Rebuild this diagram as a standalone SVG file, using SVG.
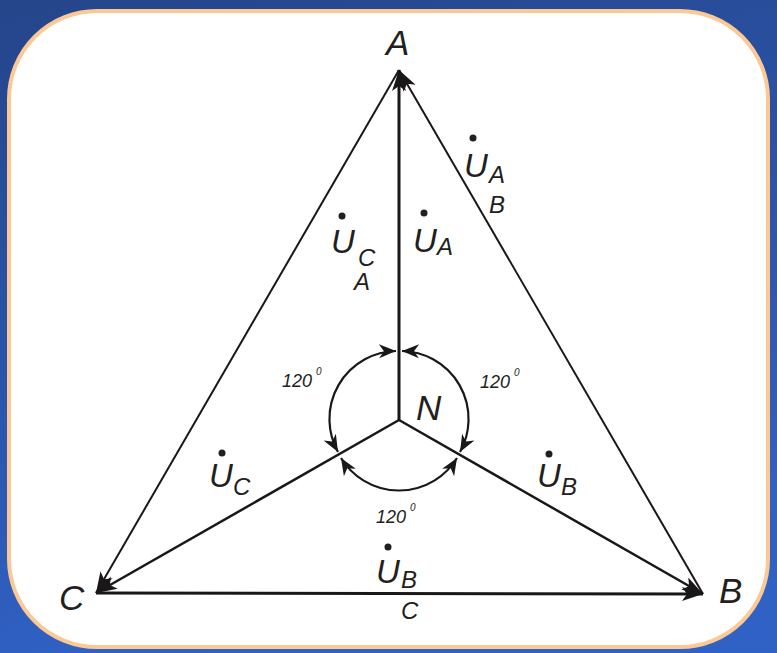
<svg xmlns="http://www.w3.org/2000/svg" width="777" height="653" viewBox="0 0 777 653">
<defs>
<linearGradient id="bg" x1="0" y1="0" x2="0.3" y2="1">
<stop offset="0" stop-color="#25458a"/>
<stop offset="1" stop-color="#3062c6"/>
</linearGradient>
<marker id="big" markerUnits="userSpaceOnUse" markerWidth="24" markerHeight="16" viewBox="-22 -8 24 16" refX="0" refY="0" orient="auto">
<path d="M0,0 L-21,-7 L-16,0 L-21,7 Z" fill="#1a1718"/>
</marker>
<marker id="sm" markerUnits="userSpaceOnUse" markerWidth="20" markerHeight="16" viewBox="-18 -8 20 16" refX="0" refY="0" orient="auto-start-reverse">
<path d="M0,0 L-17,-7 L-12,0 L-17,7 Z" fill="#1a1718"/>
</marker>
</defs>
<style>
.ln{stroke:#1a1718;fill:none;marker-end:url(#big)}
.arc{stroke:#1a1718;stroke-width:2.2;fill:none;marker-start:url(#sm);marker-end:url(#sm)}
text{font-family:"Liberation Sans",Arial,sans-serif;font-style:italic;fill:#231f20}
.pt{font-size:35px}
.u{font-size:33px}
.sub{font-size:24px}
.deg{font-size:18px}
.sup{font-size:10px}
.dot{fill:#231f20}
</style>
<rect x="0" y="0" width="777" height="653" fill="url(#bg)"/>
<rect x="9" y="11" width="759" height="636" rx="88" ry="88" fill="#ffffff" stroke="#fcc994" stroke-width="4"/>
<g id="connectors">
<line class="ln" x1="399" y1="420" x2="399" y2="70" stroke-width="3"/>
<line class="ln" x1="399" y1="420" x2="96" y2="593" stroke-width="2.5"/>
<line class="ln" x1="399" y1="420" x2="703" y2="594" stroke-width="2.5"/>
<line class="ln" x1="703" y1="594" x2="399" y2="70" stroke-width="2"/>
<line class="ln" x1="399" y1="70" x2="96" y2="593" stroke-width="2"/>
<line class="ln" x1="96" y1="593" x2="703" y2="594" stroke-width="3"/>
<path class="arc" d="M396,351 A68,68 0 0 0 338,452"/>
<path class="arc" d="M402,351 A68,68 0 0 1 460,452"/>
<path class="arc" d="M341,458 A68,68 0 0 0 457,458"/>
</g>
<g id="node-A"><text class="pt" x="386" y="55">A</text></g>
<g id="node-B"><text class="pt" x="719" y="603">B</text></g>
<g id="node-C"><text class="pt" x="59" y="610">C</text></g>
<g id="node-N"><text class="pt" x="416" y="420">N</text></g>
<g id="label-UA"><circle class="dot" cx="424" cy="213" r="3.5"/><text class="u" x="413" y="252">U</text><text class="sub" x="437" y="255">A</text></g>
<g id="label-UCA"><circle class="dot" cx="342" cy="216" r="3.5"/><text class="u" x="331" y="253">U</text><text class="sub" x="358" y="266">C</text><text class="sub" x="354" y="290">A</text></g>
<g id="label-UAB"><circle class="dot" cx="473" cy="138" r="3.5"/><text class="u" x="464" y="177">U</text><text class="sub" x="489" y="183">A</text><text class="sub" x="489" y="213">B</text></g>
<g id="label-UC"><circle class="dot" cx="222" cy="453" r="3.5"/><text class="u" x="209" y="487">U</text><text class="sub" x="233" y="495">C</text></g>
<g id="label-UB"><circle class="dot" cx="549" cy="454" r="3.5"/><text class="u" x="537" y="487">U</text><text class="sub" x="561" y="495">B</text></g>
<g id="label-UBC"><circle class="dot" cx="388" cy="547" r="3.5"/><text class="u" x="376" y="583">U</text><text class="sub" x="401" y="588">B</text><text class="sub" x="401" y="619">C</text></g>
<g id="angle-left"><text class="deg" x="282" y="387">120</text><text class="sup" x="316" y="375">0</text></g>
<g id="angle-right"><text class="deg" x="480" y="388">120</text><text class="sup" x="514" y="376">0</text></g>
<g id="angle-bottom"><text class="deg" x="376" y="523">120</text><text class="sup" x="410" y="511">0</text></g>
</svg>
